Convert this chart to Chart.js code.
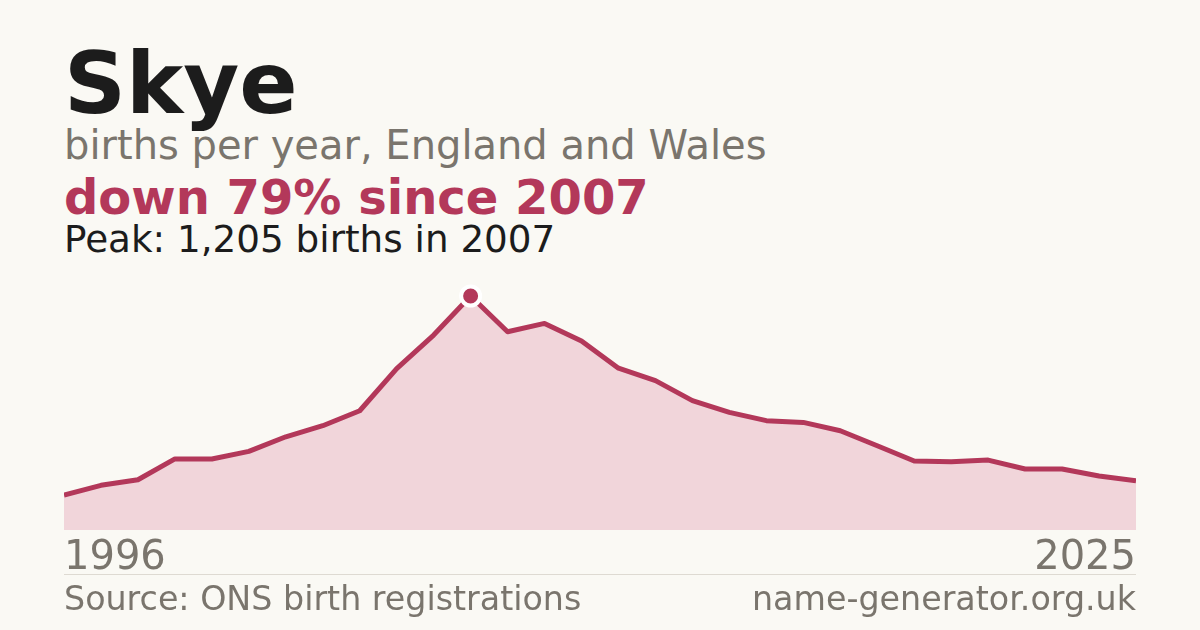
<!DOCTYPE html>
<html>
<head>
<meta charset="utf-8">
<script src="https://cdn.jsdelivr.net/npm/chart.js@4/dist/chart.umd.min.js"></script>
<style>
  html, body { margin: 0; padding: 0; }
  body { width: 1200px; height: 630px; background: #faf9f4; position: relative; overflow: hidden; font-family: "DejaVu Sans", sans-serif; }
  .txt { position: absolute; left: 64px; line-height: 1; white-space: nowrap; }
  #title { top: 40px; font-size: 86px; font-weight: bold; color: #1c1c1c; }
  #sub { top: 125px; font-size: 40px; color: #7a756d; }
  #change { top: 173px; font-size: 48px; font-weight: bold; color: #b3385a; }
  #peak { top: 221px; font-size: 37.3px; color: #1c1c1c; }
  #rule { position: absolute; left: 64px; width: 1072px; top: 574px; height: 1px; background: #dedad2; }
  .foot { top: 582px; font-size: 33.3px; color: #7a756d; }
  #site { left: auto; right: 64px; }
  #wrap { position: absolute; left: 64px; top: 270px; width: 1072px; height: 318px; }
</style>
</head>
<body>
<div class="txt" id="title">Skye</div>
<div class="txt" id="sub">births per year, England and Wales</div>
<div class="txt" id="change">down 79% since 2007</div>
<div class="txt" id="peak">Peak: 1,205 births in 2007</div>
<div id="wrap"><canvas id="myChart"></canvas></div>
<div id="rule"></div>
<div class="txt foot" id="src">Source: ONS birth registrations</div>
<div class="txt foot" id="site">name-generator.org.uk</div>

<script>
const years = [1996, 1997, 1998, 1999, 2000, 2001, 2002, 2003, 2004, 2005,
               2006, 2007, 2008, 2009, 2010, 2011, 2012, 2013, 2014, 2015,
               2016, 2017, 2018, 2019, 2020, 2021, 2022, 2023, 2024, 2025];
const births = [180, 230, 259, 366, 366, 405, 480, 537, 614, 831,
                1004, 1205, 1021, 1064, 973, 833, 769, 666, 606, 563,
                554, 511, 434, 355, 352, 360, 314, 314, 278, 254];

const red = '#b3385a';
const peakIdx = births.indexOf(Math.max(...births));

const ctx = document.getElementById('myChart');

new Chart(ctx, {
    type: 'line',
    data: {
        labels: years,
        datasets: [{
            data: births,
            borderColor: red,
            backgroundColor: '#f1d5da',
            borderWidth: 5,
            borderJoinStyle: 'round',
            fill: 'origin',
            tension: 0,
            clip: false,
            pointRadius: births.map((v, i) => i === peakIdx ? 9.5 : 0),
            pointBackgroundColor: red,
            pointBorderColor: '#ffffff',
            pointBorderWidth: 4,
        }]
    },
    options: {
        responsive: true,
        maintainAspectRatio: false,
        animation: false,
        events: [],
        layout: { autoPadding: false, padding: { top: 26, left: 0, right: 0, bottom: 0 } },
        plugins: { legend: { display: false }, tooltip: { enabled: false } },
        scales: {
            x: {
                grid: { display: false, drawTicks: false },
                border: { display: false },
                ticks: {
                    autoSkip: false,
                    maxRotation: 0,
                    align: 'inner',
                    padding: 0,
                    color: '#7a756d',
                    font: { family: 'DejaVu Sans', size: 40, lineHeight: 1.45 },
                    callback: function (val, i) {
                        return (i === 0 || i === years.length - 1) ? years[i] : '';
                    }
                }
            },
            y: {
                display: false,
                min: 0,
                max: births[peakIdx]
            }
        }
    }
});
</script>
</body>
</html>
